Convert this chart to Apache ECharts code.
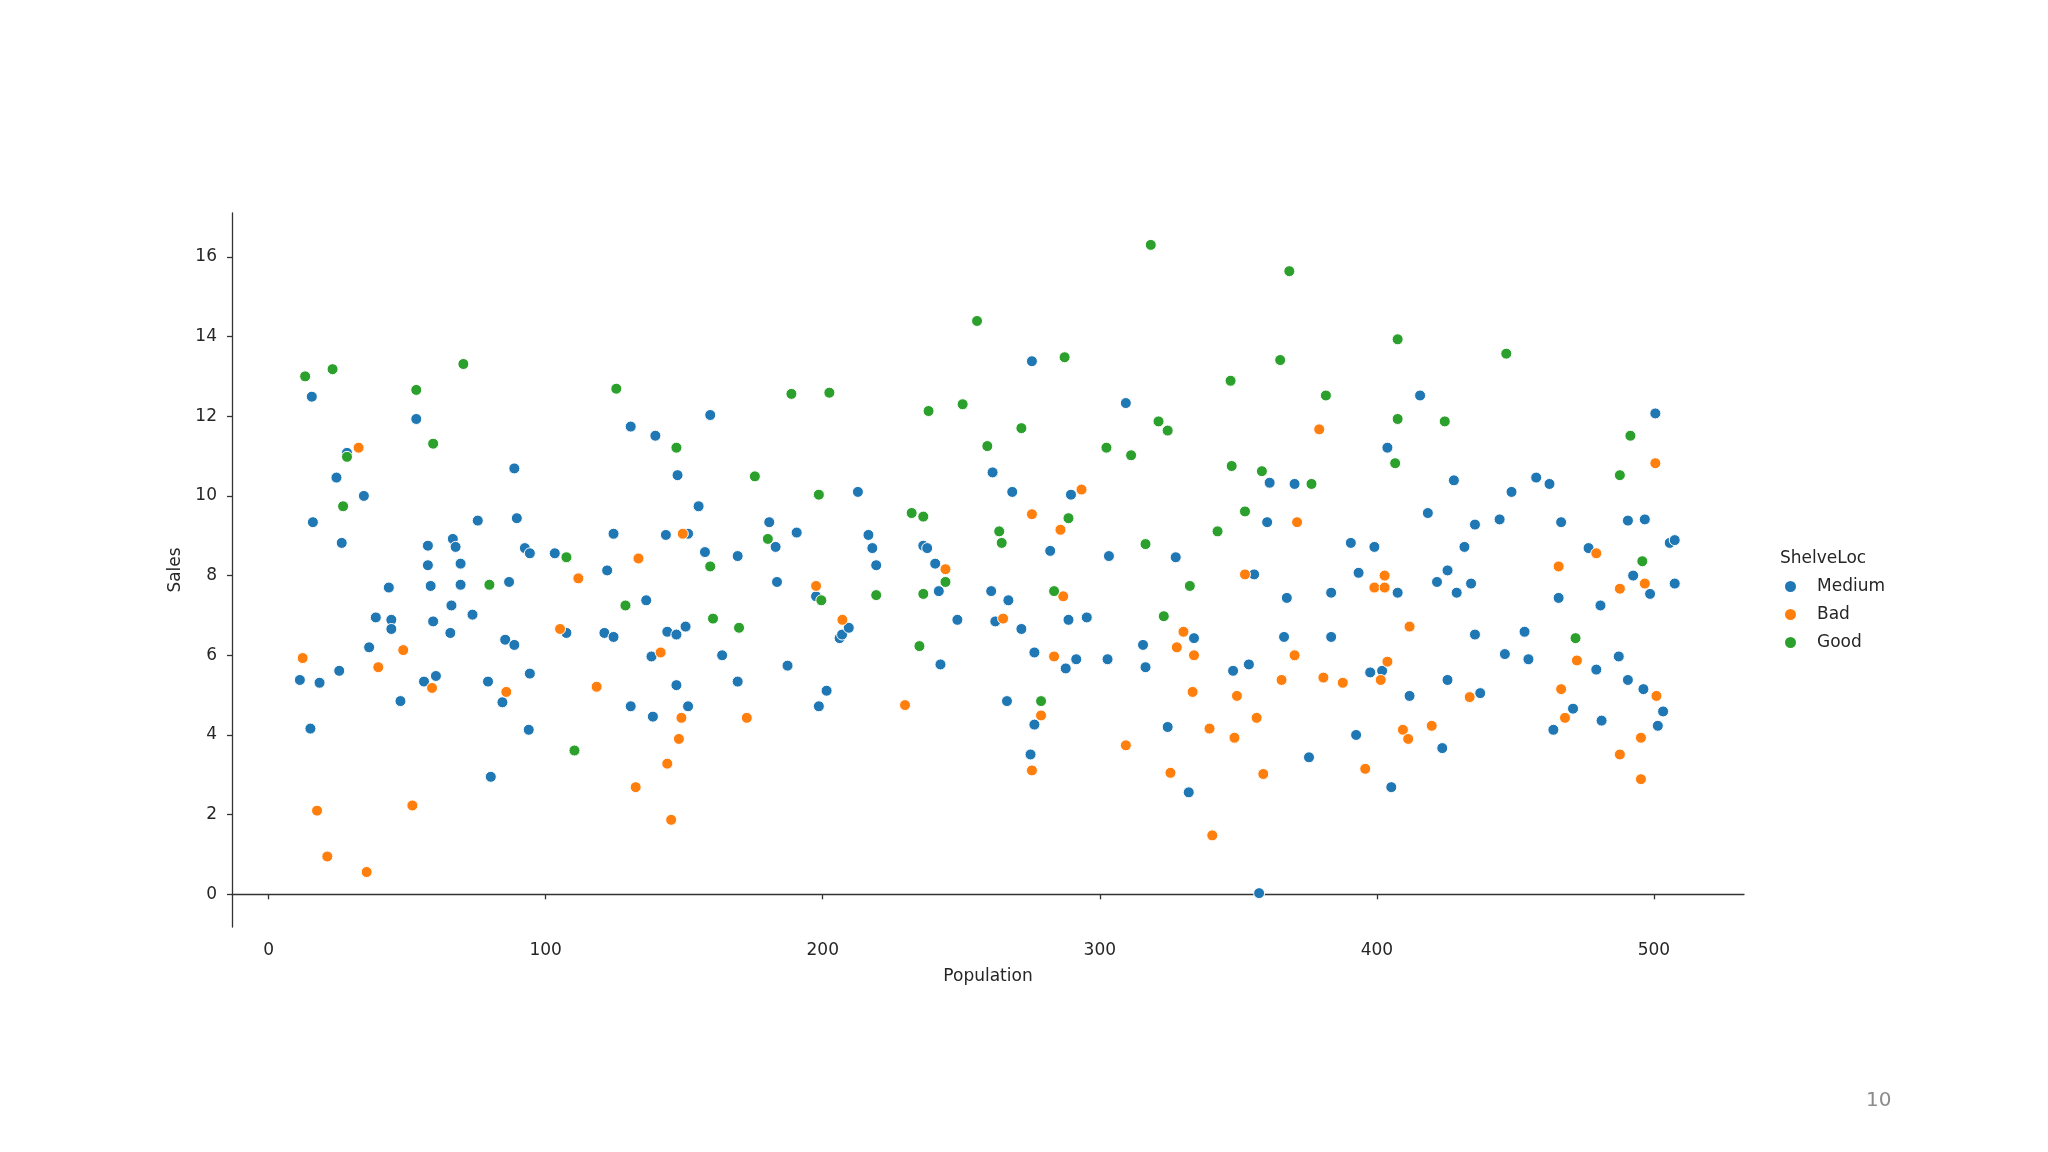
<!DOCTYPE html>
<html>
<head>
<meta charset="utf-8">
<script src="https://cdn.jsdelivr.net/npm/echarts@6/dist/echarts.min.js"></script>
<style>
html,body{margin:0;padding:0;background:#fff;}
#chart{width:2048px;height:1152px;}
</style>
</head>
<body>
<div id="chart"></div>
<script>
// Categories (ShelveLoc) and colours
const categories = ['Medium', 'Bad', 'Good'];
const xTicks = [0, 100, 200, 300, 400, 500];
const yTicks = [0, 2, 4, 6, 8, 10, 12, 14, 16];

// [Population, Sales] for each ShelveLoc group
const mediumPoints = [
[11.3,5.38],[15.6,12.49],[16,9.34],[15.1,4.16],[18.4,5.31],[24.5,10.46],[26.4,8.82],[28.3,11.08],[25.5,5.61],[34.4,10.0],
[36.3,6.2],[38.7,6.95],[43.4,7.7],[44.3,6.89],[44.3,6.66],[47.6,4.85],[53.3,11.93],[56.1,5.34],[57.5,8.75],[57.5,8.26],
[58.5,7.74],[60.4,5.48],[59.4,6.85],[66.5,8.92],[67.5,8.72],[66,7.25],[65.6,6.56],[69.3,8.30],[69.3,7.77],[73.6,7.02],
[75.5,9.38],[79.2,5.34],[80.2,2.95],[84.4,4.82],[85.4,6.39],[86.8,7.84],[88.7,10.69],[88.7,6.26],[89.6,9.44],[92.5,8.69],
[94.3,8.56],[93.9,4.13],[94.3,5.54],[103.3,8.56],[107.5,6.56],[122.2,8.13],[121.2,6.56],[124.5,6.46],[124.5,9.05],[130.7,11.74],
[130.7,4.72],[136.3,7.38],[138.2,5.97],[138.7,4.46],[139.6,11.51],[143.4,9.02],[143.9,6.59],[147.6,10.52],[147.2,6.52],[147.2,5.25],
[150.5,6.72],[151.4,9.05],[151.4,4.72],[155.2,9.74],[157.5,8.59],[159.4,12.03],[163.7,6.0],[169.3,8.49],[169.3,5.34],[180.7,9.34],
[183,8.72],[183.5,7.84],[187.3,5.74],[190.6,9.08],[197.6,7.48],[198.6,4.72],[201.4,5.11],[206.1,6.43],[207,6.52],[209.4,6.69],
[212.7,10.1],[216.5,9.02],[217.9,8.69],[219.3,8.26],[236.3,8.75],[237.7,8.69],[240.6,8.30],[241.9,7.61],[242.5,5.77],[248.6,6.89],
[260.8,7.61],[261.3,10.59],[262.3,6.85],[267,7.38],[266.5,4.85],[268.4,10.1],[271.7,6.66],[275.5,13.38],[276.4,6.07],[276.4,4.26],
[275,3.51],[282.1,8.62],[287.7,5.67],[288.7,6.89],[289.6,10.03],[291.5,5.90],[295.3,6.95],[303.3,8.49],[302.8,5.9],[309.4,12.33],
[315.6,6.26],[316.5,5.7],[324.5,4.2],[327.4,8.46],[332.1,2.56],[334,6.43],[348.1,5.61],[355.7,8.03],[353.8,5.77],[357.5,0.03],
[360.4,9.34],[361.3,10.33],[366.5,6.46],[367.5,7.44],[370.3,10.3],[375.5,3.44],[383.5,7.57],[383.5,6.46],[390.6,8.82],[393.4,8.07],
[392.5,4.0],[397.6,5.57],[399.1,8.72],[401.9,5.61],[403.8,11.21],[405.2,2.69],[407.5,7.57],[411.8,4.98],[415.6,12.52],[418.4,9.57],
[421.7,7.84],[423.6,3.67],[425.5,8.13],[425.5,5.38],[427.8,10.39],[428.8,7.57],[431.6,8.72],[434,7.80],[435.4,9.28],[435.4,6.52],
[437.3,5.05],[444.3,9.41],[446.2,6.03],[448.6,10.1],[453.3,6.59],[454.7,5.9],[457.5,10.46],[462.3,10.3],[463.7,4.13],[465.6,7.44],
[466.5,9.34],[470.8,4.66],[476.4,8.69],[480.7,7.25],[479.2,5.64],[481.1,4.36],[487.3,5.97],[490.6,9.38],[490.6,5.38],[492.5,8.0],
[496.7,9.41],[496.2,5.15],[498.6,7.54],[500.5,12.07],[501.4,4.23],[503.3,4.59],[505.7,8.82],[507.5,8.89],[507.5,7.80]
];
const badPoints = [
[12.3,5.93],[17.5,2.10],[21.2,0.95],[32.5,11.21],[35.4,0.56],[39.6,5.7],[48.6,6.13],[51.9,2.23],[59,5.18],[85.8,5.08],
[105.2,6.66],[111.8,7.93],[118.4,5.21],[133.5,8.43],[132.5,2.69],[141.5,6.07],[143.9,3.28],[145.3,1.87],[149.5,9.05],[149,4.43],
[148.1,3.9],[172.6,4.43],[197.6,7.74],[207.1,6.89],[229.7,4.75],[244.3,8.16],[265.1,6.92],[275.5,9.54],[275.5,3.11],[278.8,4.49],
[283.5,5.97],[285.8,9.15],[286.8,7.48],[293.4,10.16],[309.4,3.74],[325.5,3.05],[327.8,6.2],[330.2,6.59],[333.5,5.08],[334,6.0],
[339.6,4.16],[340.6,1.48],[348.6,3.93],[349.5,4.98],[352.4,8.03],[356.6,4.43],[359,3.02],[365.6,5.38],[371.2,9.34],[370.3,6.0],
[379.2,11.67],[380.7,5.44],[387.7,5.31],[395.8,3.15],[399.1,7.7],[401.4,5.38],[402.8,8.0],[402.8,7.7],[403.8,5.84],[409.4,4.13],
[411.3,3.9],[411.8,6.72],[419.8,4.23],[433.5,4.95],[465.6,8.23],[466.5,5.15],[467.9,4.43],[472.2,5.87],[479.2,8.56],[487.7,7.67],
[487.7,3.51],[496.7,7.80],[495.3,3.93],[495.3,2.89],[500.5,10.82],[500.9,4.98]
];
const goodPoints = [
[13.2,13.0],[23.1,13.18],[26.9,9.74],[28.3,10.98],[53.3,12.66],[59.4,11.31],[70.3,13.31],[79.7,7.77],[107.5,8.46],[110.4,3.61],
[125.5,12.69],[128.8,7.25],[147.2,11.21],[159.4,8.23],[160.4,6.92],[169.8,6.69],[175.5,10.49],[180.2,8.92],[188.7,12.56],[198.6,10.03],
[199.5,7.38],[202.4,12.59],[219.3,7.51],[232.1,9.57],[236.3,9.48],[236.3,7.54],[234.9,6.23],[238.2,12.13],[244.3,7.84],[250.5,12.3],
[255.7,14.39],[259.4,11.25],[263.7,9.11],[264.6,8.82],[271.7,11.7],[278.8,4.85],[283.5,7.61],[287.3,13.48],[288.7,9.44],[302.4,11.21],
[311.3,11.02],[316.5,8.79],[318.4,16.3],[321.2,11.87],[324.5,11.64],[323.1,6.98],[332.5,7.74],[342.5,9.11],[347.2,12.89],[347.6,10.75],
[352.4,9.61],[358.5,10.62],[365.1,13.41],[368.4,15.64],[376.4,10.3],[381.6,12.52],[407.5,13.93],[407.5,11.93],[406.6,10.82],[424.5,11.87],
[446.7,13.57],[471.7,6.43],[487.7,10.52],[491.5,11.51],[495.8,8.36]
];

const colors = ['#1f77b4', '#ff7f0e', '#2ca02c'];
const groups = [mediumPoints, badPoints, goodPoints];
const FONT = 'DejaVu Sans';
const TXT = '#262626';

const chart = echarts.init(document.getElementById('chart'), null, {renderer: 'canvas'});

const series = categories.map((name, i) => ({
  name: name,
  type: 'scatter',
  data: groups[i],
  symbol: 'circle',
  symbolSize: 11,
  itemStyle: {color: colors[i], borderColor: '#ffffff', borderWidth: 1, opacity: 1},
  emphasis: {disabled: true},
  animation: false
}));

chart.setOption({
  backgroundColor: '#ffffff',
  animation: false,
  color: colors,
  textStyle: {fontFamily: FONT},
  grid: {left: 232, top: 213, width: 1512, height: 714, containLabel: false},
  title: [
    {text: 'ShelveLoc', left: 1775, top: 545, textStyle: {fontFamily: FONT, fontSize: 17, fontWeight: 'normal', color: TXT}},
    {text: '10', left: 1861, top: 1086, textStyle: {fontFamily: FONT, fontSize: 20, fontWeight: 'normal', color: '#8c8c8c'}}
  ],
  legend: {
    data: categories,
    orient: 'vertical',
    left: 1778,
    top: 573,
    itemWidth: 13,
    itemHeight: 13,
    itemGap: 11,
    icon: 'circle',
    textStyle: {fontFamily: FONT, fontSize: 17, color: TXT, padding: [0, 0, 0, 15]}
  },
  xAxis: {
    type: 'value',
    min: -13.2,
    max: 532.5,
    name: 'Population',
    nameLocation: 'middle',
    nameGap: 41,
    nameTextStyle: {fontFamily: FONT, fontSize: 17, color: TXT},
    splitLine: {show: false},
    axisLine: {show: true, lineStyle: {color: '#333333', width: 1.3}},
    axisTick: {show: true, length: 5, lineStyle: {color: '#333333', width: 1.3}, customValues: xTicks},
    axisLabel: {fontFamily: FONT, fontSize: 17, color: TXT, margin: 15, customValues: xTicks}
  },
  yAxis: {
    type: 'value',
    min: -0.82,
    max: 17.1,
    name: 'Sales',
    nameLocation: 'middle',
    nameGap: 43,
    nameTextStyle: {fontFamily: FONT, fontSize: 17, color: TXT},
    splitLine: {show: false},
    axisLine: {show: true, onZero: false, lineStyle: {color: '#333333', width: 1.3}},
    axisTick: {show: true, length: 5, lineStyle: {color: '#333333', width: 1.3}, customValues: yTicks},
    axisLabel: {fontFamily: FONT, fontSize: 17, color: TXT, margin: 15, customValues: yTicks}
  },
  series: series
});
</script>
</body>
</html>
